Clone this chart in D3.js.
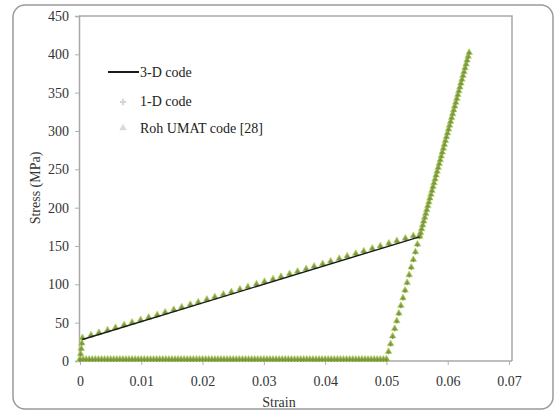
<!DOCTYPE html>
<html>
<head>
<meta charset="utf-8">
<script src="https://cdn.jsdelivr.net/npm/d3@7"></script>
<style>
  body { margin: 0; background: #fff; }
</style>
</head>
<body>
<div id="chart"></div>
<script>
const FONT = 'Liberation Serif, Times New Roman, serif';

// Tick labels
const xTicks = [0, 0.01, 0.02, 0.03, 0.04, 0.05, 0.06, 0.07];
const yTicks = [0, 50, 100, 150, 200, 250, 300, 350, 400, 450];

// 3-D code: transformation branch (the part visible as a black line)
const strain3D = [0.0004, 0.0554];
const stress3D = [28, 162];

// Loading branch points (initial elastic + transformation)
const strainLoad = [0, 0.0001, 0.0002, 0.0003, 0.0004, 0.0018, 0.0031, 0.0045, 0.0058, 0.0072,
  0.0085, 0.0099, 0.0112, 0.0126, 0.0139, 0.0153, 0.0166, 0.0180, 0.0193, 0.0207,
  0.0220, 0.0234, 0.0247, 0.0261, 0.0274, 0.0288, 0.0301, 0.0315, 0.0328, 0.0342,
  0.0355, 0.0369, 0.0382, 0.0396, 0.0409, 0.0423, 0.0436, 0.0450, 0.0463, 0.0477,
  0.0490, 0.0504, 0.0517, 0.0531, 0.0544, 0.0554];
const stressLoad = [0, 7, 14, 21, 28, 31.4, 34.7, 38.1, 41.3, 44.8,
  48.0, 51.4, 54.6, 58.0, 61.3, 64.7, 67.9, 71.4, 74.6, 78.0,
  81.2, 84.6, 87.9, 91.3, 94.5, 98.0, 101.2, 104.6, 107.8, 111.3,
  114.5, 117.9, 121.1, 124.5, 127.8, 131.2, 134.4, 137.9, 141.1, 144.5,
  147.7, 151.2, 154.4, 157.8, 161.0, 162.0];

// Martensite elastic loading up to 400 MPa
const strainReload = [0.05557, 0.05591, 0.05624, 0.05658, 0.05692, 0.05726, 0.05759, 0.05793,
  0.05827, 0.05861, 0.05894, 0.05928, 0.05962, 0.05996, 0.06029, 0.06063, 0.06097, 0.06131,
  0.06164, 0.06198, 0.06232, 0.06266, 0.06299, 0.06333];
const stressReload = [165, 175, 185, 195, 205, 215, 225, 235, 245, 255, 265, 275, 285, 295,
  305, 315, 325, 335, 345, 355, 365, 375, 385, 395];

// Elastic unloading from 400 MPa to zero
const strainUnload = [0.0635, 0.06316, 0.06283, 0.06249, 0.06215, 0.06181, 0.06148, 0.06114, 0.0608, 0.06046,
  0.06013, 0.05979, 0.05945, 0.05911, 0.05878, 0.05844, 0.0581, 0.05776, 0.05743, 0.05709,
  0.05675, 0.05641, 0.05608, 0.05574, 0.0554, 0.05506, 0.05473, 0.05439, 0.05405, 0.05371,
  0.05338, 0.05304, 0.0527, 0.05236, 0.05203, 0.05169, 0.05135, 0.05101, 0.05068, 0.05034, 0.0500];
const stressUnload = [400, 390, 380, 370, 360, 350, 340, 330, 320, 310,
  300, 290, 280, 270, 260, 250, 240, 230, 220, 210,
  200, 190, 180, 170, 160, 150, 140, 130, 120, 110,
  100, 90, 80, 70, 60, 50, 40, 30, 20, 10, 0];

// Zero stress branch
const strainZero = [0.0500, 0.0495, 0.0490, 0.0485, 0.0480, 0.0475, 0.0470, 0.0465, 0.0460, 0.0455,
  0.0450, 0.0445, 0.0440, 0.0435, 0.0430, 0.0425, 0.0420, 0.0415, 0.0410, 0.0405,
  0.0400, 0.0395, 0.0390, 0.0385, 0.0380, 0.0375, 0.0370, 0.0365, 0.0360, 0.0355,
  0.0350, 0.0345, 0.0340, 0.0335, 0.0330, 0.0325, 0.0320, 0.0315, 0.0310, 0.0305,
  0.0300, 0.0295, 0.0290, 0.0285, 0.0280, 0.0275, 0.0270, 0.0265, 0.0260, 0.0255,
  0.0250, 0.0245, 0.0240, 0.0235, 0.0230, 0.0225, 0.0220, 0.0215, 0.0210, 0.0205,
  0.0200, 0.0195, 0.0190, 0.0185, 0.0180, 0.0175, 0.0170, 0.0165, 0.0160, 0.0155,
  0.0150, 0.0145, 0.0140, 0.0135, 0.0130, 0.0125, 0.0120, 0.0115, 0.0110, 0.0105,
  0.0100, 0.0095, 0.0090, 0.0085, 0.0080, 0.0075, 0.0070, 0.0065, 0.0060, 0.0055,
  0.0050, 0.0045, 0.0040, 0.0035, 0.0030, 0.0025, 0.0020, 0.0015, 0.0010, 0.0005, 0];

const legendNames = ['3-D code', '1-D code', 'Roh UMAT code [28]'];

const width = 558, height = 412;
const margin = {left: 79, right: 44, top: 16, bottom: 51};
const fontSize = 14;

const svg = d3.select('#chart').append('svg')
  .attr('width', width)
  .attr('height', height);

// outer frame
svg.append('rect')
  .attr('x', 13).attr('y', 5)
  .attr('width', 540).attr('height', 404)
  .attr('rx', 12)
  .attr('fill', 'none')
  .attr('stroke', '#9a9a9a')
  .attr('stroke-width', 1.5);

const x = d3.scaleLinear().domain([0, 0.07]).range([margin.left + 1, width - margin.right - 5]);
const y = d3.scaleLinear().domain([0, 450]).range([height - margin.bottom, margin.top]);

// plot border (top and right)
svg.append('path')
  .attr('d', `M${x(0) - 1},${y(450)}H${x(0.07) + 3}V${y(0)}`)
  .attr('fill', 'none')
  .attr('stroke', '#a8a8a8')
  .attr('stroke-width', 1.5);

// axes
const xAxis = svg.append('g')
  .attr('transform', `translate(0,${y(0)})`)
  .call(d3.axisBottom(x).tickValues(xTicks).tickSize(4).tickPadding(11)
    .tickFormat(d => d === 0 ? '0' : d3.format('.2f')(d)));
const yAxis = svg.append('g')
  .attr('transform', `translate(${x(0) - 1},0)`)
  .call(d3.axisLeft(y).tickValues(yTicks).tickSize(4).tickPadding(6));

[xAxis, yAxis].forEach(g => {
  g.attr('font-family', FONT).attr('font-size', fontSize);
  g.select('.domain').attr('stroke', '#a8a8a8').attr('stroke-width', 1.5);
  g.selectAll('.tick line').attr('stroke', '#b0b0b0');
  g.selectAll('.tick text').attr('fill', '#333');
});
xAxis.select('.domain').attr('d', `M${x(0) - 1},0H${x(0.07) + 3}`);

// axis titles
svg.append('text')
  .attr('x', 279).attr('y', 407)
  .attr('text-anchor', 'middle')
  .attr('font-family', FONT)
  .attr('font-size', fontSize)
  .attr('fill', '#333')
  .text('Strain');
svg.append('text')
  .attr('transform', 'translate(40,188) rotate(-90)')
  .attr('text-anchor', 'middle')
  .attr('font-family', FONT)
  .attr('font-size', fontSize)
  .attr('fill', '#333')
  .text('Stress (MPa)');

// series
const pair = (xs, ys) => xs.map((s, i) => [s, ys[i]]);
const line = d3.line().x(d => x(d[0])).y(d => y(d[1]));
const data3D = pair(strain3D, stress3D);
const pointsAll = pair(strainLoad, stressLoad)
  .concat(pair(strainReload, stressReload))
  .concat(pair(strainUnload, stressUnload))
  .concat(strainZero.map(s => [s, 0]));

// Roh UMAT code: triangles
const tri = d3.symbol().type(d3.symbolTriangle).size(19);
svg.append('g').selectAll('path')
  .data(pointsAll)
  .join('path')
  .attr('d', tri)
  .attr('transform', d => `translate(${x(d[0])},${y(d[1]) - 1.8})`)
  .attr('fill', '#8db04b')
  .attr('stroke', '#b3d062')
  .attr('stroke-width', 0.6);

// 1-D code: small crosses
const cross = d3.symbol().type(d3.symbolCross).size(8);
svg.append('g').selectAll('path')
  .data(pointsAll)
  .join('path')
  .attr('d', cross)
  .attr('transform', d => `translate(${x(d[0])},${y(d[1]) - 1})`)
  .attr('fill', '#7a9442');

// 3-D code: black line
svg.append('path')
  .datum(data3D)
  .attr('d', line)
  .attr('fill', 'none')
  .attr('stroke', '#1a1a1a')
  .attr('stroke-width', 1.4);

// legend
const legend = svg.append('g');
legend.append('line')
  .attr('x1', 108).attr('x2', 139)
  .attr('y1', 72).attr('y2', 72)
  .attr('stroke', '#1a1a1a').attr('stroke-width', 2);
legend.append('path')
  .attr('d', d3.symbol().type(d3.symbolCross).size(22)())
  .attr('transform', 'translate(123,102)')
  .attr('fill', '#d4d4d4');
legend.append('path')
  .attr('d', d3.symbol().type(d3.symbolTriangle).size(24)())
  .attr('transform', 'translate(123,128)')
  .attr('fill', '#dadada');
legend.selectAll('text')
  .data(legendNames)
  .join('text')
  .attr('x', 140)
  .attr('y', (d, i) => [77, 106, 133][i])
  .attr('font-family', FONT)
  .attr('font-size', fontSize)
  .attr('fill', '#222')
  .text(d => d);
</script>
</body>
</html>
